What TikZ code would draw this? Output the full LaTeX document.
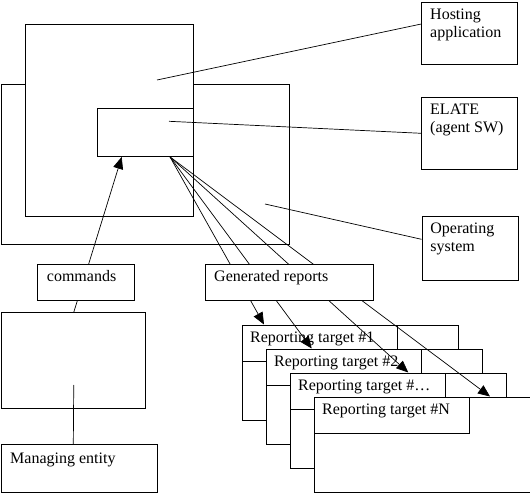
\documentclass[tikz,border=0pt]{standalone}
\usepackage{fontspec}
\setmainfont{Liberation Serif}
\usetikzlibrary{arrows.meta,calc}
\begin{document}
\begin{tikzpicture}[x=1pt,y=-1pt,
  bx/.style={draw,fill=white,line width=0.9pt,inner sep=0pt,anchor=north west},
  txt/.style={anchor=base west,inner sep=0pt,font=\fontsize{16}{18}\selectfont},
  conn/.style={line width=0.7pt},
  arr/.style={conn,-{Triangle[length=12pt,width=10pt]}},
  tgt/.style={bx,minimum width=216pt,minimum height=95.7pt},
  tgttitle/.style={bx,minimum width=155pt,minimum height=36.5pt}]
\useasboundingbox (0,0) rectangle (530,494);
% system boxes
\node[bx,minimum width=288pt,minimum height=160pt] (os) at (1.3,84.3) {};
\node[bx,minimum width=168pt,minimum height=191.7pt] (ha) at (25.3,24.3) {};
\node[bx,minimum width=96pt,minimum height=47.7pt] (el) at (97.3,108.3) {};
% label boxes
\node[bx,minimum width=96pt,minimum height=62.6pt] (lh) at (421.3,1.7) {};
\node[txt] (lht1) at ($(lh.north west)+(8.7,17.5)$) {Hosting};
\node[txt] (lht2) at ($(lh.north west)+(8.7,35.5)$) {application};
\node[bx,minimum width=96pt,minimum height=71.7pt] (le) at (421.3,97.3) {};
\node[txt] (let1) at ($(le.north west)+(8.7,17.5)$) {ELATE};
\node[txt] (let2) at ($(le.north west)+(8.7,35.5)$) {(agent SW)};
\node[bx,minimum width=96pt,minimum height=64.3pt] (lo) at (421.5,215.7) {};
\node[txt] (lot1) at ($(lo.north west)+(8.7,17.5)$) {Operating};
\node[txt] (lot2) at ($(lo.north west)+(8.7,35.5)$) {system};
% pointer lines
\coordinate (hap) at (157,80);
\coordinate (elp) at (169,121.3);
\coordinate (osp) at (265,204);
\draw[conn] (hap) -- ($(lh.north west)+(0,22.3)$);
\draw[conn] (elp) -- ($(le.north west)+(0,36)$);
\draw[conn] (osp) -- ($(lo.north west)+(0,23.6)$);
% reporting targets
\node[tgt] (t1) at (241.5,324.5) {};
\node[tgttitle] (t1h) at (t1.north west) {};
\node[txt] (t1t) at ($(t1.north west)+(8.5,17.5)$) {Reporting target \#1};
\node[tgt] (t2) at (265.5,348.5) {};
\node[tgttitle] (t2h) at (t2.north west) {};
\node[txt] (t2t) at ($(t2.north west)+(8.5,17.5)$) {Reporting target \#2};
\node[tgt] (t3) at (289.5,372.5) {};
\node[tgttitle] (t3h) at (t3.north west) {};
\node[txt] (t3t) at ($(t3.north west)+(8.5,17.5)$) {Reporting target \#…};
\node[tgt] (t4) at (313.5,396.5) {};
\node[tgttitle] (t4h) at (t4.north west) {};
\node[txt] (t4t) at ($(t4.north west)+(8.5,17.5)$) {Reporting target \#N};
% report arrows
\coordinate (src) at ($(el.south west)+(72.7,0)$);
\draw[arr] (src) -- ($(t1.north west)+(22.5,0)$);
\draw[arr] (src) -- ($(t2.north west)+(46.2,0)$);
\draw[arr] (src) -- ($(t3.north west)+(118.8,0)$);
\draw[arr] (src) -- ($(t4.north west)+(176.5,0)$);
% generated reports box
\node[bx,minimum width=168pt,minimum height=36pt] (gr) at (205.3,264.3) {};
\node[txt] (grt) at ($(gr.north west)+(8.7,17.7)$) {Generated reports};
% managing side
\node[bx,minimum width=144pt,minimum height=96pt] (mg) at (1.3,312.3) {};
\draw[arr] (mg.north) -- ($(el.south west)+(24.4,0)$);
\node[bx,minimum width=96.4pt,minimum height=36pt] (cm) at (37.3,264.3) {};
\node[txt] (cmt) at ($(cm.north west)+(9.4,17.7)$) {commands};
\node[bx,minimum width=156pt,minimum height=48pt] (me) at (1.3,444.3) {};
\node[txt] (met) at ($(me.north west)+(8.7,18.7)$) {Managing entity};
\coordinate (mgc) at ($(mg.north)+(0,72.7)$);
\draw[conn] (mgc) -- ($(me.north west)+(72,0)$);
\end{tikzpicture}
\end{document}
